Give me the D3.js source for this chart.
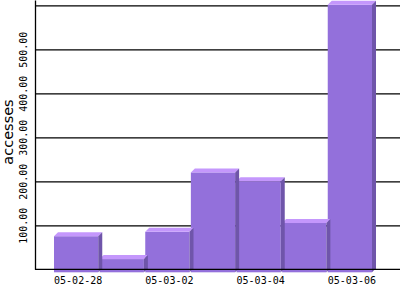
<!DOCTYPE html>
<html>
<head>
<meta charset="utf-8">
<script src="https://cdn.jsdelivr.net/npm/d3@7"></script>
<style>
  body { margin: 0; background: #fff; }
  svg { display: block; }
</style>
</head>
<body>
<div id="graf"></div>
<script>
// datos
fechas = ['05-02-28', '05-03-01', '05-03-02', '05-03-03', '05-03-04', '05-03-05', '05-03-06']
accesos = [82, 30, 92, 227, 207, 112, 608]
gridTicks = [100, 200, 300, 400, 500, 600]
labelTicks = [100, 200, 300, 400, 500]
xLabels = ['05-02-28', '05-03-02', '05-03-04', '05-03-06']

// configuración
ancho_total = 400
alto_total = 300
ejeX = 35
base = 269.3
prof = 4   // profundidad 3D
baja = 3   // desplazamiento de la cara frontal

svg = d3.select('#graf').append('svg')
        .attr('width', ancho_total)
        .attr('height', alto_total)

y = d3.scaleLinear()
      .domain([0, 612])
      .range([base, 0])

x = d3.scaleBand()
      .domain(fechas)
      .range([54, 372])
      .paddingInner(0.03)
      .paddingOuter(0)

// rejilla
grid = svg.append('g')
          .attr('transform', `translate(${ejeX}, 0)`)
          .call(d3.axisLeft(y).tickValues(gridTicks).tickSize(-(ancho_total - ejeX)).tickFormat(''))
grid.select('.domain').remove()
grid.selectAll('line').attr('stroke', '#000').attr('stroke-width', 1.3)

// barras (de derecha a izquierda)
datos = fechas.map((f, i) => ({ fecha: f, valor: accesos[i] })).reverse()
bw = x.bandwidth()

barras = svg.selectAll('g.barra')
            .data(datos)
            .enter()
            .append('g')
            .attr('class', 'barra')

barras.append('rect')
      .attr('x', d => x(d.fecha))
      .attr('y', d => y(d.valor) + baja)
      .attr('width', bw)
      .attr('height', d => y(0) - y(d.valor))
      .attr('fill', '#9370db')

barras.append('path')
      .attr('d', d => {
        x0 = x(d.fecha); x1 = x0 + bw; t = y(d.valor) + baja
        return `M${x0},${t}L${x0 + prof},${t - prof}L${x1 + prof},${t - prof}L${x1},${t}Z`
      })
      .attr('fill', '#c497fc')

barras.append('path')
      .attr('d', d => {
        x1 = x(d.fecha) + bw; t = y(d.valor) + baja; b = y(0) + baja
        return `M${x1},${t}L${x1 + prof},${t - prof}L${x1 + prof},${b - prof}L${x1},${b}Z`
      })
      .attr('fill', '#6f55aa')

// ejes
svg.append('line')
   .attr('x1', ejeX).attr('x2', ancho_total)
   .attr('y1', y(0)).attr('y2', y(0))
   .attr('stroke', '#000').attr('stroke-width', 1.3)

yAxisGroup = svg.append('g')
                .attr('transform', `translate(${ejeX}, 0)`)
                .call(d3.axisLeft(y).tickValues(labelTicks).tickSize(0).tickFormat(d3.format('.2f')))
yAxisGroup.select('.domain')
          .attr('stroke', '#000').attr('stroke-width', 1.3)
yAxisGroup.selectAll('text')
          .attr('x', 0).attr('dy', 0)
          .attr('text-anchor', 'middle')
          .attr('transform', 'translate(-8.5, 0) rotate(-90)')
          .style('font-family', 'DejaVu Sans Mono')
          .style('font-size', '10px')
          .attr('fill', '#000')

xAxisGroup = svg.append('g')
                .attr('transform', `translate(2, ${y(0)})`)
                .call(d3.axisBottom(x).tickValues(xLabels).tickSize(0))
xAxisGroup.select('.domain').remove()
xAxisGroup.selectAll('text')
          .attr('y', 15).attr('dy', 0)
          .style('font-family', 'DejaVu Sans Mono')
          .style('font-size', '10px')
          .attr('fill', '#000')

svg.append('text')
   .attr('transform', `translate(13, 132) rotate(-90)`)
   .attr('text-anchor', 'middle')
   .style('font-family', 'DejaVu Sans')
   .style('font-size', '14.5px')
   .text('accesses')
</script>
</body>
</html>
